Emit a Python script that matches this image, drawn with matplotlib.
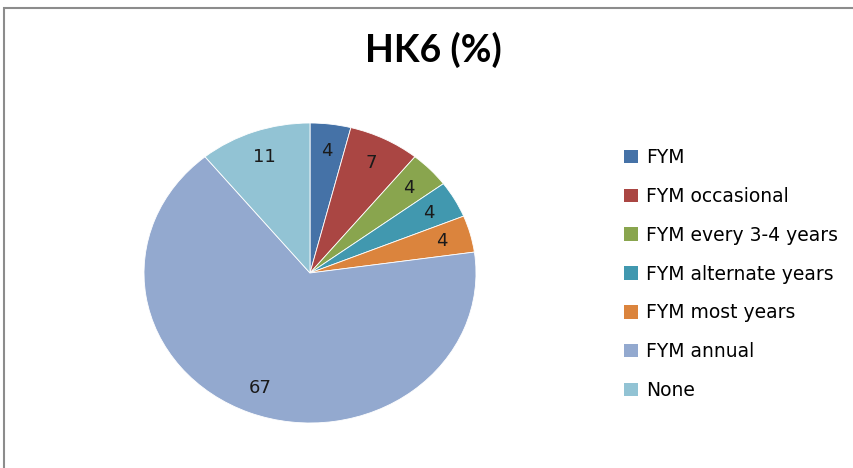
import matplotlib
matplotlib.use('Agg')
import matplotlib.pyplot as plt
from matplotlib.patches import Rectangle, Patch

# data
categories = ['FYM', 'FYM occasional', 'FYM every 3-4 years', 'FYM alternate years',
              'FYM most years', 'FYM annual', 'None']
values = [4, 7, 4, 4, 4, 67, 11]
colors = ['#4572A7', '#AA4643', '#89A54E', '#4198AF', '#DB843D', '#93A9CF', '#92C3D4']

W, H = 854, 468
fig = plt.figure(figsize=(W / 100, H / 100), dpi=100)

# outer chart frame (runs off the right and bottom edges)
fig.patches.append(Rectangle((4 / W, -0.02), 1.1, 1 - 8 / H + 0.02, transform=fig.transFigure,
                             fill=False, edgecolor='#8c8c8c', linewidth=1.5))

fig.text(433 / W, 1 - 50 / H, 'HK6 (%)', ha='center', va='center',
         fontsize=27, fontweight='bold', family='Lato')

# pie is slightly wider than tall in the reference
cx, cy, rx, ry = 310, 273, 166, 150
ax = fig.add_axes([(cx - rx) / W, (H - cy - ry) / H, 2 * rx / W, 2 * ry / H])
wedges, texts = ax.pie(values, colors=colors, startangle=90, counterclock=False,
                       labels=[str(v) for v in values], labeldistance=0.82,
                       wedgeprops=dict(edgecolor='white', linewidth=0.6),
                       textprops=dict(fontsize=13, color='#1a1a1a', family='DejaVu Sans'))
for t in texts:
    t.set_ha('center')
    t.set_va('center')
ax.set_aspect('auto')
ax.set_xlim(-1, 1)
ax.set_ylim(-1, 1)
ax.axis('off')

handles = [Patch(facecolor=c, edgecolor='none') for c in colors]
fig.legend(handles, categories, loc='upper left', bbox_to_anchor=(607 / W, 1 - 131 / H),
           frameon=False, handlelength=0.75, handleheight=0.72, handletextpad=0.45,
           labelspacing=1.06, prop=dict(family='DejaVu Sans', size=13.5))

plt.savefig('out.png', dpi=100)
